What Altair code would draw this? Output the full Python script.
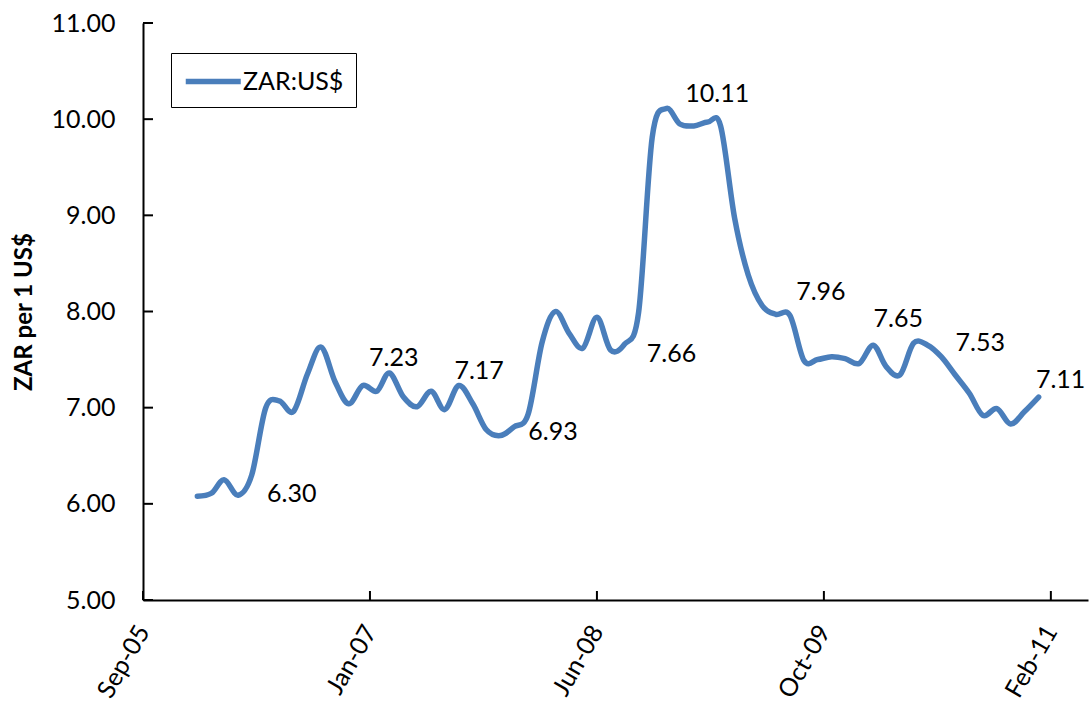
import altair as alt
import pandas as pd

# Monthly ZAR per US$ series, Jan 2006 - Feb 2011
months = [f"{y}-{m:02d}-01" for y in range(2006, 2012) for m in range(1, 13)][:62]
zar_per_usd = [6.08, 6.11, 6.25, 6.09, 6.30, 7.00, 7.07, 6.96, 7.35, 7.63,
               7.27, 7.04, 7.23, 7.17, 7.36, 7.11, 7.01, 7.17, 6.98, 7.23,
               7.04, 6.77, 6.71, 6.80, 6.93, 7.68, 8.00, 7.77, 7.62, 7.94,
               7.60, 7.66, 7.99, 9.81, 10.11, 9.95, 9.93, 9.97, 9.93, 8.97,
               8.38, 8.06, 7.97, 7.96, 7.49, 7.50, 7.53, 7.51, 7.46, 7.65,
               7.43, 7.34, 7.67, 7.65, 7.53, 7.34, 7.15, 6.92, 6.99, 6.83,
               6.96, 7.11]
series_name = "ZAR:US$"

# Axis ticks
x_tick_dates = [(2005, 9, 3), (2007, 1, 17), (2008, 6, 1), (2009, 10, 15), (2011, 2, 28)]
y_ticks = [5, 6, 7, 8, 9, 10, 11]

# Annotated months (index into the series) and their label offsets in pixels
annotated = [4, 12, 17, 24, 31, 34, 43, 49, 54, 61]
label_offsets = {4: (40, 19), 12: (31, -28), 17: (48, -20), 24: (25, 18),
                 31: (47, 10), 34: (51, -15), 43: (31, -23), 49: (25, -26),
                 54: (39, -14), 61: (22, -17)}

W, H = 945, 577
FONT = "Lato"
LINE_COLOR = "#4A7EBB"

df = pd.DataFrame({"month": months, "value": zar_per_usd, "series": series_name})

def dt(t):
    return alt.DateTime(year=t[0], month=t[1], date=t[2], utc=True)

x_scale = alt.Scale(type="utc", domain=[dt((2005, 9, 3)), dt((2011, 5, 21))])
y_scale = alt.Scale(domain=[5, 11], nice=False, zero=False)

line = alt.Chart(df).mark_line(
    interpolate="cardinal", tension=0, strokeWidth=5.5, strokeCap="round", strokeJoin="round"
).encode(
    x=alt.X("month:T", scale=x_scale,
            axis=alt.Axis(values=[dt(t) for t in x_tick_dates],
                          labelExpr="utcFormat(datum.value, '%b-%y')",
                          labelAngle=300, labelAlign="right", labelBaseline="middle",
                          labelFont=FONT, labelFontSize=25, labelColor="black",
                          labelPadding=27, tickSize=0, grid=False, title=None,
                          domainColor="black", domainWidth=2, labelOverlap=False)),
    y=alt.Y("value:Q", scale=y_scale,
            axis=alt.Axis(values=y_ticks, format=".2f", labelFont=FONT, labelFontSize=25,
                          labelColor="black", labelPadding=28, tickSize=0, grid=False,
                          domainColor="black", domainWidth=2,
                          title="ZAR per 1 US$", titleFont=FONT, titleFontSize=24,
                          titleFontWeight="bold", titleColor="black",
                          titleAngle=270, titleAlign="center", titleBaseline="middle",
                          titleX=-119, titleY=H / 2)),
    color=alt.Color("series:N", scale=alt.Scale(range=[LINE_COLOR]),
                    legend=alt.Legend(title=None, orient="none", legendX=28, legendY=30,
                                      strokeColor="black", fillColor="white",
                                      padding=12, symbolType="M-1,0H3",
                                      symbolSize=756, symbolStrokeWidth=5.5,
                                      labelFont=FONT, labelFontSize=25,
                                      labelColor="black", labelOffset=27)),
)

# Inward-facing tick marks
y_tick_rules = alt.Chart(pd.DataFrame({"v": y_ticks})).mark_rule(
    color="black", strokeWidth=2
).encode(
    y=alt.Y("v:Q", scale=y_scale),
    x=alt.value(0), x2=alt.value(10),
)

x_tick_df = pd.DataFrame({"d": [f"{t[0]}-{t[1]:02d}-{t[2]:02d}" for t in x_tick_dates]})
x_tick_rules = alt.Chart(x_tick_df).mark_rule(color="black", strokeWidth=2).encode(
    x=alt.X("d:T", scale=x_scale),
    y=alt.value(H), y2=alt.value(H - 9),
)

labels = []
for i in annotated:
    dx, dy = label_offsets[i]
    ldf = pd.DataFrame({"month": [months[i]], "value": [zar_per_usd[i]]})
    labels.append(
        alt.Chart(ldf).mark_text(
            dx=dx, dy=dy, font=FONT, fontSize=25, color="black",
            align="center", baseline="middle"
        ).encode(
            x=alt.X("month:T", scale=x_scale),
            y=alt.Y("value:Q", scale=y_scale),
            text=alt.Text("value:Q", format=".2f"),
        )
    )

chart = alt.layer(line, y_tick_rules, x_tick_rules, *labels).properties(
    width=W, height=H,
    padding={"left": 143, "top": 23, "right": 2, "bottom": 102},
    autosize=alt.AutoSizeParams(type="none"),
    background="white",
).configure_view(stroke=None)

chart.save("out.html", embed_options={"renderer": "svg", "actions": False})
